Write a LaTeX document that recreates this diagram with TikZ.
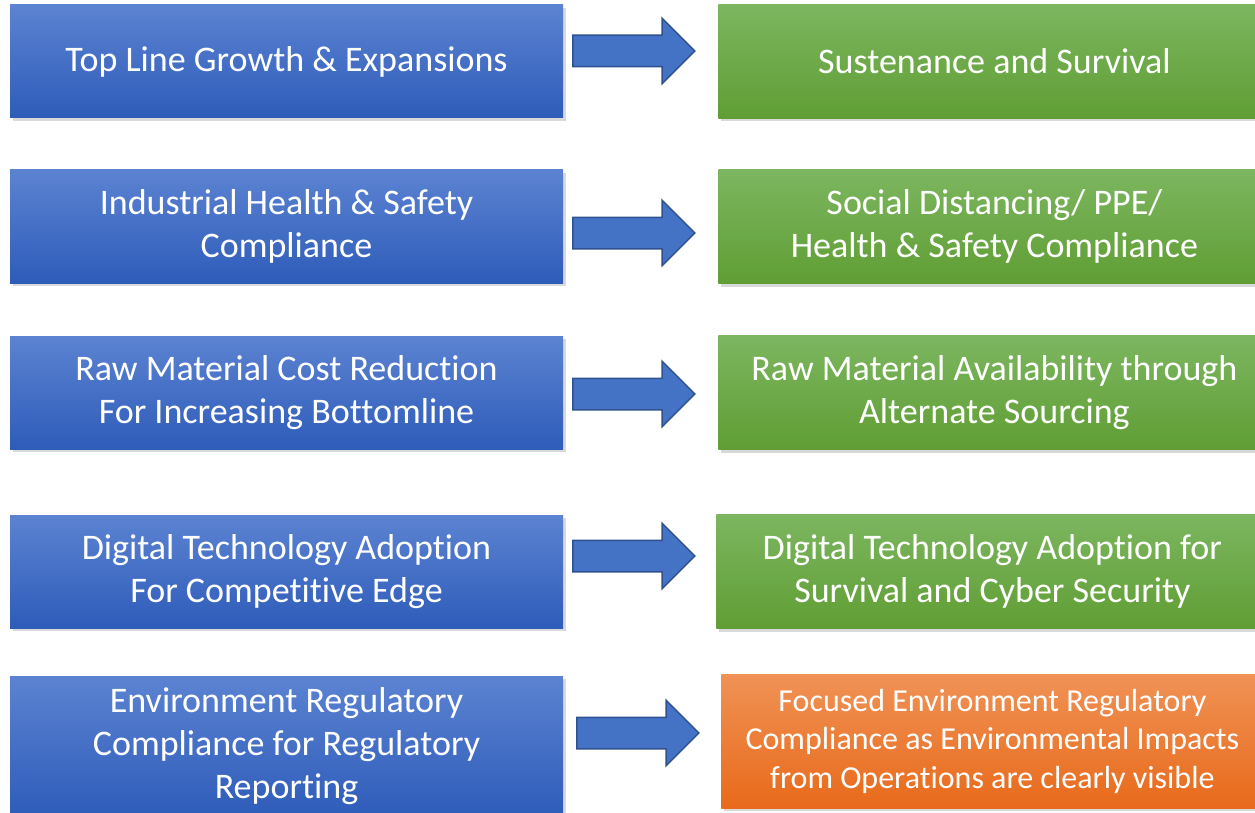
\documentclass[tikz,border=0pt]{standalone}
\usepackage{fontspec}
\setmainfont{Carlito}[Ligatures=NoCommon]
\usetikzlibrary{positioning,shapes.arrows,shadows}

\definecolor{bluetop}{RGB}{92,131,210}
\definecolor{bluebot}{RGB}{46,92,185}
\definecolor{greentop}{RGB}{124,182,96}
\definecolor{greenbot}{RGB}{96,158,52}
\definecolor{orangetop}{RGB}{240,146,86}
\definecolor{orangebot}{RGB}{232,106,26}
\definecolor{arrowfill}{RGB}{68,114,196}
\definecolor{arrowline}{RGB}{47,82,143}

\begin{document}
\begin{tikzpicture}[x=1pt, y=-1pt, node distance=155pt,
	box/.style = {rectangle, inner sep=0pt, text=white, align=center, drop shadow={shadow xshift=3pt, shadow yshift=-3pt, opacity=0.3}},
	oldway/.style = {box, minimum width=553pt, minimum height=113pt, top color=bluetop, bottom color=bluebot, font=\fontsize{36}{43}\selectfont},
	newway/.style = {box, minimum width=552pt, minimum height=114pt, top color=greentop, bottom color=greenbot, font=\fontsize{36}{43}\selectfont},
	urgent/.style = {box, minimum width=542pt, minimum height=134pt, top color=orangetop, bottom color=orangebot, font=\fontsize{32}{38.5}\selectfont},
	turn/.style = {single arrow, draw=arrowline, line width=1.5pt, fill=arrowfill, inner xsep=0pt, inner ysep=15pt, minimum height=122pt, single arrow head extend=17pt, single arrow tip angle=90}]
	\useasboundingbox (0,0) rectangle (1255,813);
	% before
	\node[oldway] (l1) at (286.5,61.5) {Top Line Growth \& Expansions};
	\node[oldway] (l2) at (286.5,226.5) {Industrial Health \& Safety\\Compliance};
	\node[oldway] (l3) at (286.5,392.5) {Raw Material Cost Reduction\\For Increasing Bottomline};
	\node[oldway] (l4) at (286.5,571.5) {Digital Technology Adoption\\For Competitive Edge};
	\node[oldway, minimum height=140pt] (l5) at (286.5,746) {Environment Regulatory\\Compliance for Regulatory\\Reporting};
	% after
	\node[newway, right=155pt of l1] (r1) {Sustenance and Survival};
	\node[newway, right=155pt of l2] (r2) {Social Distancing/ PPE/\\Health \& Safety Compliance};
	\node[newway, right=155pt of l3] (r3) {Raw Material Availability through\\Alternate Sourcing};
	\node[newway, right=153pt of l4] (r4) {Digital Technology Adoption for\\Survival and Cyber Security};
	\node[urgent, right=158pt of l5, yshift=5pt] (r5) {Focused Environment Regulatory\\Compliance as Environmental Impacts\\from Operations are clearly visible};
	% arrows
	\node[turn] (a1) at (626,51) {};
	\node[turn] (a2) at (626,233) {};
	\node[turn] (a3) at (626,394) {};
	\node[turn] (a4) at (626,556) {};
	\node[turn] (a5) at (630,733) {};
\end{tikzpicture}
\end{document}
